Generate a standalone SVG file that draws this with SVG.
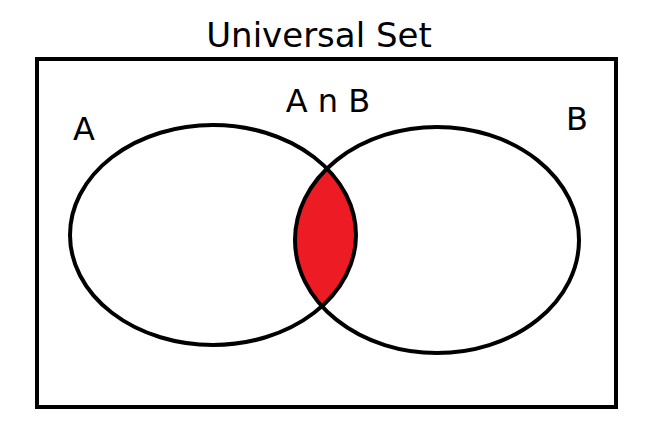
<svg xmlns="http://www.w3.org/2000/svg" width="653" height="427" viewBox="0 0 653 427">
<style>
.s{fill:none;stroke:#000;stroke-width:4}
.t{font-family:"DejaVu Sans",sans-serif;fill:#000}
</style>
<defs><clipPath id="ca"><ellipse cx="213" cy="235" rx="143" ry="110"/></clipPath></defs>
<rect width="653" height="427" fill="#fff"/>
<g id="universe"><rect class="s" x="37" y="59" width="579" height="348"/>
<text class="t" x="319" y="47" font-size="34" text-anchor="middle">Universal Set</text></g>
<g id="intersection"><ellipse cx="437" cy="240" rx="142" ry="113" fill="#ED1C24" clip-path="url(#ca)"/>
<text class="t" x="328" y="112" font-size="32" text-anchor="middle">A n B</text></g>
<g id="A"><ellipse class="s" cx="213" cy="235" rx="143" ry="110"/>
<text class="t" x="84" y="140" font-size="32" text-anchor="middle">A</text></g>
<g id="B"><ellipse class="s" cx="437" cy="240" rx="142" ry="113"/>
<text class="t" x="577" y="130" font-size="32" text-anchor="middle">B</text></g>
<g id="connectors"/>
</svg>
